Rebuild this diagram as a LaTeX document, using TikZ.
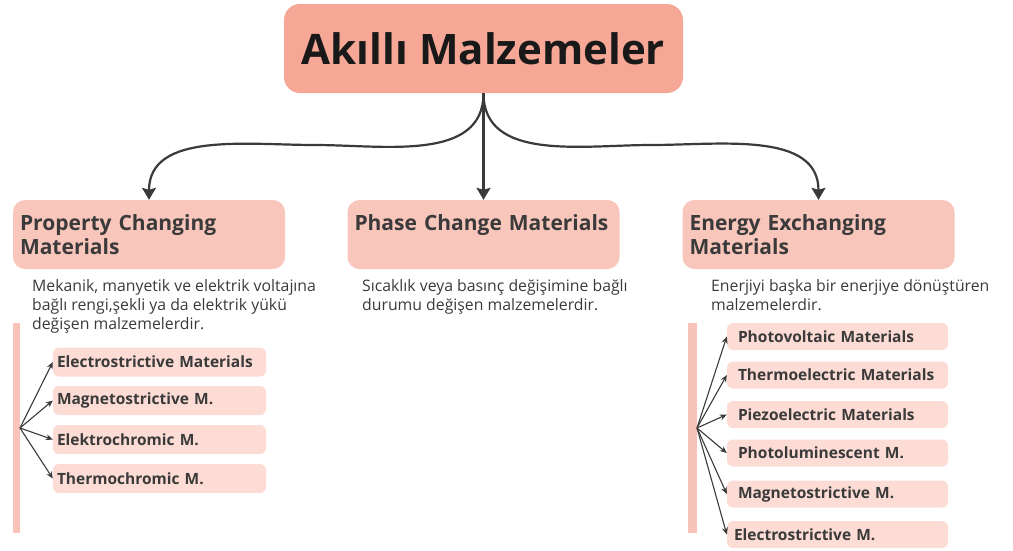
\documentclass[tikz,border=0pt]{standalone}
\usepackage{fontspec}
\setmainfont{Open Sans}
\usetikzlibrary{arrows.meta}

\definecolor{titlefill}{HTML}{F6A795}
\definecolor{catfill}{HTML}{F9C6BC}
\definecolor{itemfill}{HTML}{FCDCD5}
\definecolor{barfill}{HTML}{F8C3B8}
\definecolor{darktext}{HTML}{3A3A3A}

\begin{document}
\begin{tikzpicture}[x=1pt,y=-1pt,
    titlebox/.style={fill=titlefill, rounded corners=16pt, minimum width=399pt,
        minimum height=89pt, font=\fontsize{42}{50}\selectfont\bfseries, text=black!90},
    catbox/.style={fill=catfill, rounded corners=12pt, text width=258pt, inner xsep=7pt,
        minimum height=69pt, align=left, font=\fontsize{21}{24.5}\selectfont\bfseries, text=darktext},
    desc/.style={anchor=north west, inner sep=0pt, align=left,
        font=\fontsize{15.8}{19}\selectfont, text=darktext},
    itembox/.style={fill=itemfill, rounded corners=6pt, align=left,
        font=\fontsize{15.5}{17}\selectfont\bfseries, text=darktext},
    mainarrow/.style={draw=darktext, line width=2.2pt,
        -{Stealth[length=12pt,width=14pt,inset=2pt]}},
    subarrow/.style={draw=darktext, line width=1.1pt,
        -{Stealth[length=7pt,width=6pt]}}]

    \useasboundingbox (0,0) rectangle (1013,550);

    % Top node
    \node[titlebox] (top) at (483.5,48.5) {Akıllı Malzemeler};

    % Three categories
    \foreach \name/\x/\label in {pcm/149/{Property Changing\\Materials},
        phc/483.5/{Phase Change Materials\\\mbox{}},
        eem/818.5/{Energy Exchanging\\Materials}} {
        \node[catbox] (\name) at (\x,234.5) {\label};
    }

    % Descriptions
    \node[desc] (pcmtext) at (32,279) {Mekanik, manyetik ve elektrik voltajına\\bağlı rengi,şekli ya da elektrik yükü\\değişen malzemelerdir.};
    \node[desc] (phctext) at (362,279) {Sıcaklık veya basınç değişimine bağlı\\durumu değişen malzemelerdir.};
    \node[desc] (eemtext) at (711,279) {Enerjiyi başka bir enerjiye dönüştüren\\malzemelerdir.};

    % Connectors from the top node
    \coordinate (bendL) at (315,145);
    \coordinate (bendR) at (651,145);
    \draw[mainarrow] (top.south) -- (phc.north);
    \draw[mainarrow] (top.south) to[out=270,in=0] (bendL) to[out=180,in=90] (pcm.north);
    \draw[mainarrow] (top.south) to[out=270,in=180] (bendR) to[out=0,in=90] (eem.north);

    % Side bars
    \fill[barfill] (13,323) rectangle (20,533);
    \fill[barfill] (688,323) rectangle (697,533);
    \coordinate (hubL) at (20,428);
    \coordinate (hubR) at (697,428);

    % Left list
    \foreach \i/\y/\label in {1/362/Electrostrictive Materials, 2/400.5/Magnetostrictive M.,
        3/439.5/Elektrochromic M., 4/478.5/Thermochromic M.} {
        \node[itembox, text width=205pt, inner xsep=4pt, minimum height=29pt] (pc\i) at (159.5,\y) {\label};
        \draw[subarrow] (hubL) -- (pc\i.west);
    }

    % Right list (last one sits a little further left)
    \foreach \i/\y/\sep/\label in {1/336.5/11/Photovoltaic Materials, 2/375/11/Thermoelectric Materials,
        3/414.5/11/Piezoelectric Materials, 4/453/11/Photoluminescent M.,
        5/494/11/Magnetostrictive M., 6/534.5/7/Electrostrictive M.} {
        \node[itembox, text width=221pt-2*\sep pt, inner xsep=\sep pt, minimum height=27pt] (ee\i) at (837.5,\y) {\label};
        \draw[subarrow] (hubR) -- (ee\i.west);
    }

\end{tikzpicture}
\end{document}
